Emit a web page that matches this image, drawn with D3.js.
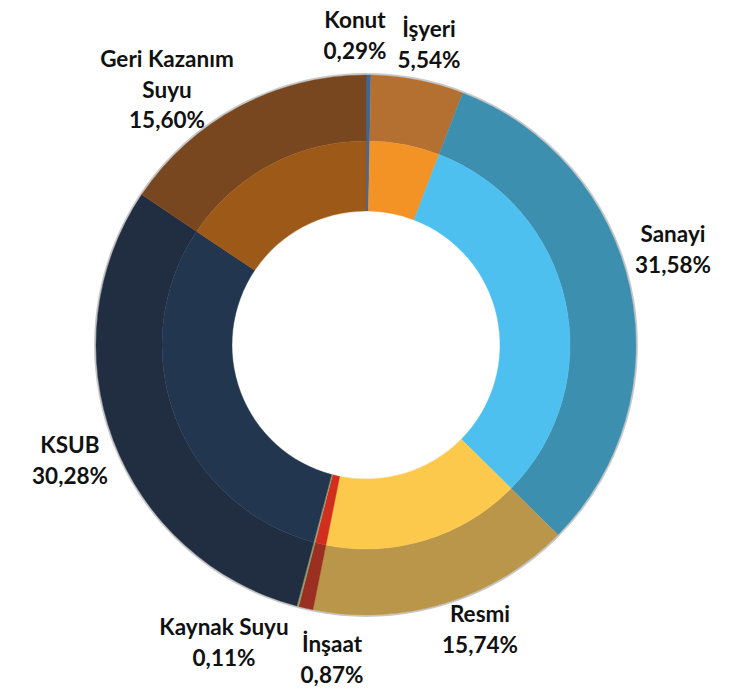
<!DOCTYPE html>
<html><head><meta charset="utf-8">
<script src="https://cdn.jsdelivr.net/npm/d3@7"></script>
<style>html,body{margin:0;padding:0;background:#fff;}svg{display:block;}</style>
</head><body>
<svg id="chart" width="738" height="695"></svg>
<script>
const categories = ["Konut","İşyeri","Sanayi","Resmi","İnşaat","Kaynak Suyu","KSUB","Geri Kazanım Suyu"];
const values = [0.29, 5.54, 31.58, 15.74, 0.87, 0.11, 30.28, 15.60];
const valueLabels = ["0,29%","5,54%","31,58%","15,74%","0,87%","0,11%","30,28%","15,60%"];
const outerColors = ["#3F6695","#B37031","#3D8FB0","#BA964B","#9A2F22","#8E9C6E","#212D40","#78461F"];
const innerColors = ["#44699A","#F39325","#4DC0EF","#FDC94C","#D12E1D","#9AAA78","#22364F","#9C5917"];
// label lines and anchor positions (label placement only)
const labelLines = [["Konut"],["İşyeri"],["Sanayi"],["Resmi"],["İnşaat"],["Kaynak Suyu"],["KSUB"],["Geri Kazanım","Suyu"]];
const labelPos = [[355,28],[429,37],[673,242],[480,622],[332,652],[224,635],[70,453],[167,67]];

const svg = d3.select("#chart");
const cx = 366, cy = 345;
const R0 = 134, R1 = 204, R2 = 270;
const g = svg.append("g").attr("transform", `translate(${cx},${cy})`);

const pie = d3.pie().sort(null).value(d => d)(values);

// subtle shadow edge
g.append("circle").attr("r", R2 + 0.8).attr("fill", "none")
  .attr("stroke", "#c8c8c8").attr("stroke-width", 2.2);

const arcOuter = d3.arc().innerRadius(R1).outerRadius(R2);
const arcInner = d3.arc().innerRadius(R0).outerRadius(R1);

g.selectAll("path.outer").data(pie).join("path")
  .attr("class","outer").attr("d", arcOuter)
  .attr("fill", (d,i) => outerColors[i])
  .attr("stroke", (d,i) => outerColors[i]).attr("stroke-width", 0.4);

g.selectAll("path.inner").data(pie).join("path")
  .attr("class","inner").attr("d", arcInner)
  .attr("fill", (d,i) => innerColors[i])
  .attr("stroke", (d,i) => innerColors[i]).attr("stroke-width", 0.4);

// labels
const lg = svg.append("g").attr("font-family", "Lato, 'Open Sans', sans-serif")
  .attr("font-weight", "bold").attr("font-size", 22.5).attr("fill", "#111")
  .attr("text-anchor", "middle");
categories.forEach((c, i) => {
  const lines = labelLines[i].concat([valueLabels[i]]);
  const t = lg.append("text").attr("x", labelPos[i][0]).attr("y", labelPos[i][1]);
  lines.forEach((ln, j) => {
    t.append("tspan").attr("x", labelPos[i][0]).attr("dy", j === 0 ? 0 : 30.5).text(ln);
  });
});
</script>
</body></html>
